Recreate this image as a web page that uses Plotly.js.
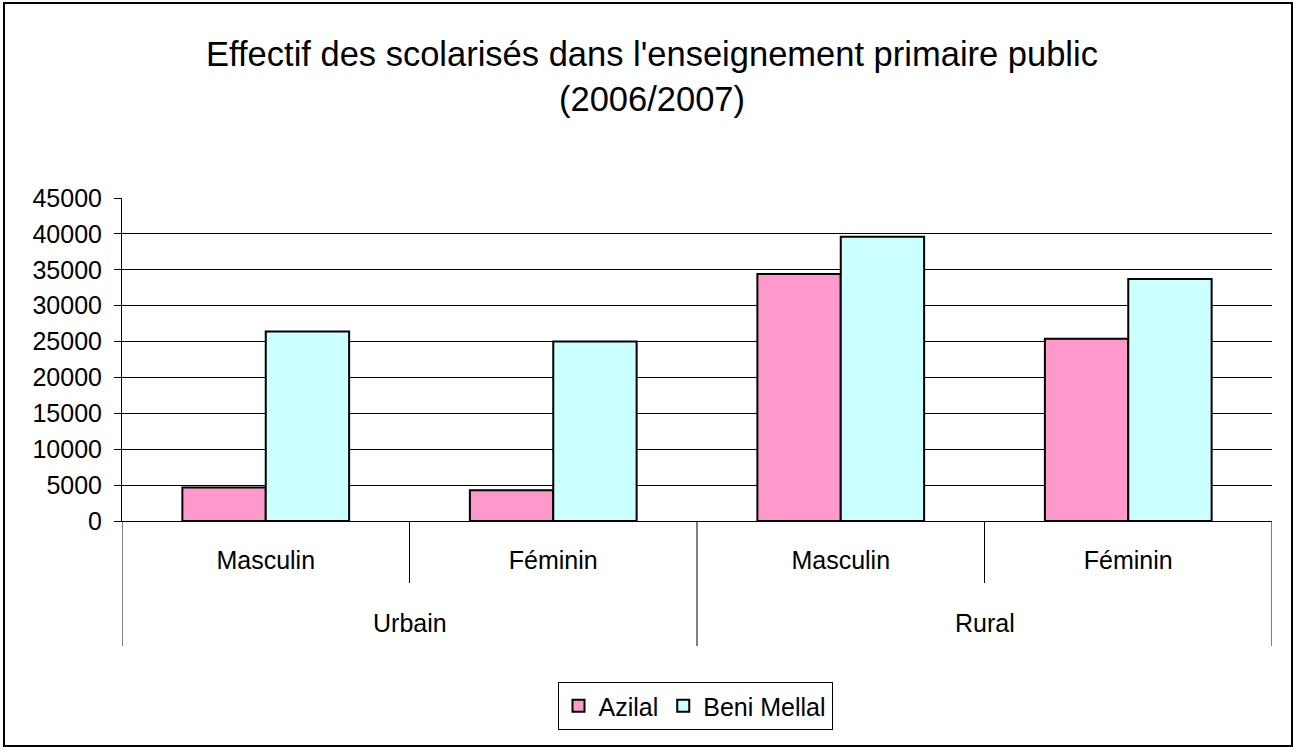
<!DOCTYPE html>
<html>
<head>
<meta charset="utf-8">
<script src="https://cdn.plot.ly/plotly-3.0.1.min.js"></script>
<style>
  html, body { margin: 0; padding: 0; background: #fff; }
  #wrap { position: relative; width: 1293px; height: 747px; }
  #chart { position: absolute; left: 0; top: 0; width: 1293px; height: 747px; }
  #frame { position: absolute; left: 3px; top: 2px; width: 1290px; height: 745px;
           border: 2px solid #000; box-sizing: border-box; pointer-events: none; }
</style>
</head>
<body>
<div id="wrap">
  <div id="chart"></div>
  <div id="frame"></div>
</div>
<script>
// ---- data ----
const groups = ["Urbain", "Urbain", "Rural", "Rural"];
const subcategories = ["Masculin", "Féminin", "Masculin", "Féminin"];
const seriesNames = ["Azilal", "Beni Mellal"];
const azilal = [4650, 4300, 34400, 25400];
const beniMellal = [26400, 25000, 39600, 33700];
const yTicks = [0, 5000, 10000, 15000, 20000, 25000, 30000, 35000, 40000, 45000];
const chartTitle = "Effectif des scolarisés dans l'enseignement primaire public<br>(2006/2007)";

// ---- styles ----
const FONT = "Liberation Sans, Arial, sans-serif";
const colors = ["#FF99CC", "#CCFFFF"];
const idx = subcategories.map((_, i) => i);

const traces = [azilal, beniMellal].map((vals, k) => ({
  type: "bar",
  name: seriesNames[k],
  x: idx,
  y: vals,
  marker: { color: colors[k], line: { color: "#000", width: 2 } },
  hoverinfo: "skip"
}));

// divider lines below the x axis (axis decoration derived from category layout)
const shapes = [];
const subDepth = -(583 - 521) / 323;
const groupDepth = -(646 - 521) / 323;
for (let b = 0; b <= idx.length; b++) {
  const left = groups[b - 1], right = groups[b];
  const isGroupEdge = (b === 0 || b === idx.length || left !== right);
  shapes.push({
    type: "line", xref: "x", yref: "paper",
    x0: b - 0.5, x1: b - 0.5, y0: 0, y1: isGroupEdge ? groupDepth : subDepth,
    line: { color: "#000", width: 1 }
  });
}

// group labels centered on each group
const annotations = [];
const uniqueGroups = [...new Set(groups)];
uniqueGroups.forEach(g => {
  const members = idx.filter(i => groups[i] === g);
  const center = members.reduce((a, b) => a + b, 0) / members.length;
  annotations.push({
    xref: "x", yref: "paper", x: center, y: -(623 - 521) / 323,
    xanchor: "center", yanchor: "middle", showarrow: false,
    text: g, font: { family: FONT, size: 25, color: "#000" }
  });
});

const layout = {
  width: 1293, height: 747,
  margin: { l: 122, r: 21, t: 198, b: 226, pad: 0 },
  paper_bgcolor: "#fff", plot_bgcolor: "#fff",
  font: { family: FONT, size: 25, color: "#000" },
  title: {
    text: chartTitle,
    font: { family: FONT, size: 34.5, color: "#000" },
    x: 652 / 1293, xref: "container", xanchor: "center",
    y: 1 - 66 / 747, yref: "container", yanchor: "top"
  },
  barmode: "group",
  bargap: 0.42,
  bargroupgap: 0,
  showlegend: true,
  legend: {
    orientation: "h",
    x: (695 - 122) / 1150, xanchor: "center", xref: "paper",
    y: -(682 - 521) / 323, yanchor: "top", yref: "paper",
    bgcolor: "#fff", bordercolor: "#000", borderwidth: 1,
    font: { family: FONT, size: 25, color: "#000" },
    traceorder: "normal",
    itemwidth: 30
  },
  xaxis: {
    range: [-0.5, idx.length - 0.5],
    tickmode: "array", tickvals: idx, ticktext: subcategories,
    ticks: "", showgrid: false, zeroline: false,
    showline: true, linecolor: "#000", linewidth: 1,
    tickfont: { family: FONT, size: 25, color: "#000" },
    ticklabelstandoff: 17,
    fixedrange: true
  },
  yaxis: {
    range: [0, 45000],
    tickmode: "array", tickvals: yTicks, ticktext: yTicks.map(String),
    ticks: "outside", ticklen: 7, tickcolor: "#000", tickwidth: 1,
    showgrid: true, gridcolor: "#000", gridwidth: 1,
    zeroline: false,
    showline: true, linecolor: "#000", linewidth: 1,
    tickfont: { family: FONT, size: 25, color: "#000" },
    ticklabelstandoff: 7,
    fixedrange: true
  },
  shapes: shapes,
  annotations: annotations
};

Plotly.newPlot("chart", traces, layout, { displayModeBar: false, staticPlot: true });
</script>
</body>
</html>
